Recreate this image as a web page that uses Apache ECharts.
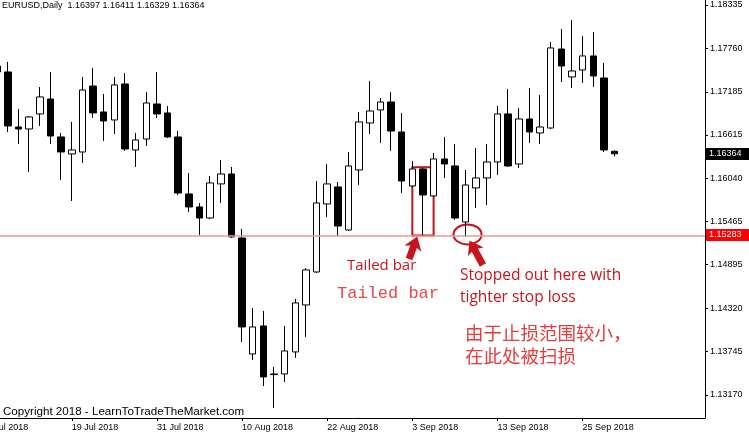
<!DOCTYPE html>
<html><head><meta charset="utf-8">
<script src="https://cdn.jsdelivr.net/npm/echarts@6/dist/echarts.min.js"></script>
<style>html,body{margin:0;padding:0;background:#fff}#c{width:749px;height:435px}</style>
</head><body><div id="c"></div>
<script>
// ---- data ----
const padBefore = ['9 Jul 2018'];
const dates = [
 '10 Jul 2018','11 Jul 2018','12 Jul 2018','13 Jul 2018','16 Jul 2018','17 Jul 2018','18 Jul 2018','19 Jul 2018','20 Jul 2018','23 Jul 2018',
 '24 Jul 2018','25 Jul 2018','26 Jul 2018','27 Jul 2018','30 Jul 2018','31 Jul 2018','1 Aug 2018','2 Aug 2018','3 Aug 2018','6 Aug 2018',
 '7 Aug 2018','8 Aug 2018','9 Aug 2018','10 Aug 2018','13 Aug 2018','14 Aug 2018','15 Aug 2018','16 Aug 2018','17 Aug 2018','20 Aug 2018',
 '21 Aug 2018','22 Aug 2018','23 Aug 2018','24 Aug 2018','27 Aug 2018','28 Aug 2018','29 Aug 2018','30 Aug 2018','31 Aug 2018','3 Sep 2018',
 '4 Sep 2018','5 Sep 2018','6 Sep 2018','7 Sep 2018','10 Sep 2018','11 Sep 2018','12 Sep 2018','13 Sep 2018','14 Sep 2018','17 Sep 2018',
 '18 Sep 2018','19 Sep 2018','20 Sep 2018','21 Sep 2018','24 Sep 2018','25 Sep 2018','26 Sep 2018','27 Sep 2018','28 Sep 2018'];
const padAfter = ['1 Oct 2018','2 Oct 2018','3 Oct 2018','4 Oct 2018','5 Oct 2018','8 Oct 2018','9 Oct 2018','10 Oct 2018'];

const opens = [1.17527,1.17448,1.16719,1.16693,1.16892,1.17090,1.16587,1.16362,1.16388,1.17262,
 1.16918,1.16812,1.17289,1.16415,1.16560,1.17024,1.16905,1.16587,1.15832,1.15660,
 1.15514,1.15965,1.16097,1.15249,1.13713,1.14084,1.13448,1.13448,1.13740,1.14362,
 1.14799,1.15700,1.15925,1.15355,1.16150,1.16772,1.16944,1.17050,1.16653,1.15938,
 1.16163,1.15806,1.16296,1.16203,1.15461,1.15912,1.16044,1.16256,1.16892,1.16229,
 1.16825,1.16640,1.16706,1.17752,1.17382,1.17474,1.17660,1.17368,1.16397];
const highs = [1.17580,1.17580,1.16958,1.16865,1.17249,1.17448,1.16640,1.16786,1.17382,1.17501,
 1.17156,1.17382,1.17434,1.16640,1.17183,1.17448,1.16997,1.16666,1.16110,1.15713,
 1.16070,1.16282,1.16190,1.15369,1.14322,1.14283,1.13541,1.14084,1.14442,1.14852,
 1.16004,1.16229,1.15991,1.16388,1.16918,1.17329,1.17103,1.17183,1.16905,1.16269,
 1.16176,1.16375,1.16587,1.16494,1.16150,1.16441,1.16494,1.16997,1.17223,1.16971,
 1.17236,1.17143,1.17845,1.18017,1.18136,1.17924,1.17977,1.17567,1.16411];
const lows = [1.17408,1.16653,1.16494,1.16123,1.16733,1.16494,1.16017,1.15739,1.16243,1.16839,
 1.16534,1.16627,1.16402,1.16190,1.16468,1.16839,1.16574,1.15819,1.15594,1.15289,
 1.15501,1.15713,1.15249,1.13872,1.13634,1.13289,1.12998,1.13342,1.13660,1.13938,
 1.14786,1.15527,1.15276,1.15342,1.15951,1.16627,1.16507,1.16402,1.15845,1.15925,
 1.15283,1.15792,1.16044,1.15488,1.15263,1.15647,1.15686,1.16084,1.16190,1.16176,
 1.16507,1.16494,1.16693,1.17315,1.17236,1.17302,1.17249,1.16388,1.16329];
const closes = [1.17448,1.16733,1.16693,1.16852,1.17117,1.16600,1.16388,1.16415,1.17209,1.16905,
 1.16799,1.17276,1.16428,1.16547,1.17037,1.16892,1.16587,1.15845,1.15660,1.15514,
 1.15978,1.16097,1.15263,1.14071,1.14071,1.13409,1.13440,1.13753,1.14389,1.14826,
 1.15713,1.15965,1.15408,1.16203,1.16786,1.16931,1.17050,1.16666,1.16004,1.16163,
 1.15819,1.16296,1.16229,1.15514,1.15951,1.16044,1.16256,1.16892,1.16203,1.16825,
 1.16653,1.16719,1.17766,1.17527,1.17461,1.17660,1.17395,1.16415,1.16364];

const yTicks = [1.18335,1.17760,1.17185,1.16615,1.16040,1.15465,1.14895,1.14320,1.13745,1.13170];
const levelPrice = 1.15283;
const lastPrice = 1.16364;
const titleText = 'EURUSD,Daily  1.16397 1.16411 1.16329 1.16364';
const copyrightText = 'Copyright 2018 - LearnToTradeTheMarket.com';
const tailedBarDate = '4 Sep 2018';
const stopDate = '10 Sep 2018';

// ---- chart ----
const categories = padBefore.concat(dates, padAfter);
const candleData = padBefore.map(() => '-')
  .concat(dates.map((d, i) => [opens[i], closes[i], lows[i], highs[i]]))
  .concat(padAfter.map(() => '-'));
const labelIdx = new Set();
for (let i = 0; i < padBefore.length + dates.length; i += 8) labelIdx.add(i);

const axisFont = { fontFamily: 'Liberation Sans', fontSize: 9, color: '#000' };

const chart = echarts.init(document.getElementById('c'), null, { renderer: 'canvas' });
chart.setOption({
  animation: false,
  backgroundColor: '#fff',
  grid: { left: -18.7, right: 44, top: 0, bottom: 17, containLabel: false, outerBoundsMode: 'none' },
  xAxis: {
    type: 'category', data: categories, boundaryGap: true,
    axisLine: { show: true, onZero: false, lineStyle: { color: '#000', width: 1 } },
    axisTick: { show: true, alignWithLabel: true, length: 3, interval: (i) => labelIdx.has(i), lineStyle: { color: '#000' } },
    axisLabel: Object.assign({ interval: (i) => labelIdx.has(i), align: 'left', margin: 5 }, axisFont),
    splitLine: { show: false }
  },
  yAxis: {
    type: 'value', position: 'right', min: 1.12865, max: 1.18401, scale: true,
    axisLine: { show: true, lineStyle: { color: '#000', width: 1 } },
    axisTick: { show: true, length: 3, customValues: yTicks, lineStyle: { color: '#000' } },
    axisLabel: Object.assign({ customValues: yTicks, margin: 5, formatter: (v) => v.toFixed(5) }, axisFont),
    splitLine: { show: false }
  },
  series: [{
    type: 'candlestick',
    data: candleData,
    barWidth: 7,
    itemStyle: { color: '#ffffff', color0: '#000000', borderColor: '#000000', borderColor0: '#000000', borderWidth: 1 },
    markLine: {
      silent: true, symbol: ['none', 'none'], label: { show: false }, precision: 5,
      lineStyle: { color: '#eb9a9a', width: 1.5, type: 'solid' },
      data: [{ yAxis: levelPrice }]
    }
  }]
});

// ---- annotations ----
const toPx = (cat, price) => chart.convertToPixel({ gridIndex: 0 }, [cat, price]);
const ti = dates.indexOf(tailedBarDate);
const si = dates.indexOf(stopDate);
const pTailL = toPx(dates[ti - 1], highs[ti] + 0.0001);
const pTailR = toPx(dates[ti + 1], levelPrice);
const pStop = toPx(dates[si], levelPrice);
const yLast = toPx(dates[dates.length - 1], lastPrice)[1];
const yLevel = pStop[1];
const red = '#c8141c';

function arrow(x, y, rot, len) {
  return {
    type: 'polygon', x: x, y: y, rotation: rot,
    shape: { points: [[0, 0], [9, 13], [3.5, 11], [3.5, len], [-3.5, len], [-3.5, 11], [-9, 13]] },
    style: { fill: red }
  };
}
function txt(x, y, text, size, family, fill, extra) {
  return { type: 'text', x: x, y: y, style: Object.assign({ text: text, fontSize: size, fontFamily: family, fill: fill, verticalAlign: 'middle', align: 'left' }, extra || {}) };
}
function priceBox(y, label, bg) {
  return { type: 'group', children: [
    { type: 'rect', shape: { x: 706, y: Math.round(y) - 6, width: 43, height: 12 }, style: { fill: bg } },
    txt(709, Math.round(y), label, 9, 'Liberation Sans', '#fff')
  ] };
}

chart.setOption({ graphic: [
  txt(2, 6, titleText, 9, 'Liberation Sans', '#000'),
  txt(3, 412, copyrightText, 11.6, 'Liberation Sans', '#000'),
  { type: 'rect', shape: { x: pTailL[0], y: pTailL[1], width: pTailR[0] - pTailL[0], height: pTailR[1] - pTailL[1] },
    style: { fill: null, stroke: '#c0141c', lineWidth: 2 } },
  { type: 'ellipse', shape: { cx: pStop[0] + 2, cy: pStop[1] - 1, rx: 14, ry: 10 },
    style: { fill: null, stroke: '#c0141c', lineWidth: 2 } },
  arrow(pTailL[0] + 5, pTailR[1] + 1, -0.35, 24),
  arrow(pStop[0] + 4, pStop[1] + 5, 0.5, 28),
  txt(347, 266, 'Tailed bar', 15, 'Open Sans', red),
  txt(337, 293, 'Tailed bar', 17, 'Liberation Mono', '#e8484a'),
  txt(460, 276, 'Stopped out here with', 15.5, 'Open Sans', red),
  txt(460, 298, 'tighter stop loss', 15.5, 'Open Sans', red),
  txt(465, 333, '由于止损范围较小，', 18.5, 'Noto Sans CJK SC', '#e63c3c'),
  txt(465, 356, '在此处被扫损', 18.5, 'Noto Sans CJK SC', '#e63c3c'),
  priceBox(yLast, lastPrice.toFixed(5), '#000'),
  priceBox(yLevel, levelPrice.toFixed(5), '#ff0000')
] });
</script>
</body></html>
